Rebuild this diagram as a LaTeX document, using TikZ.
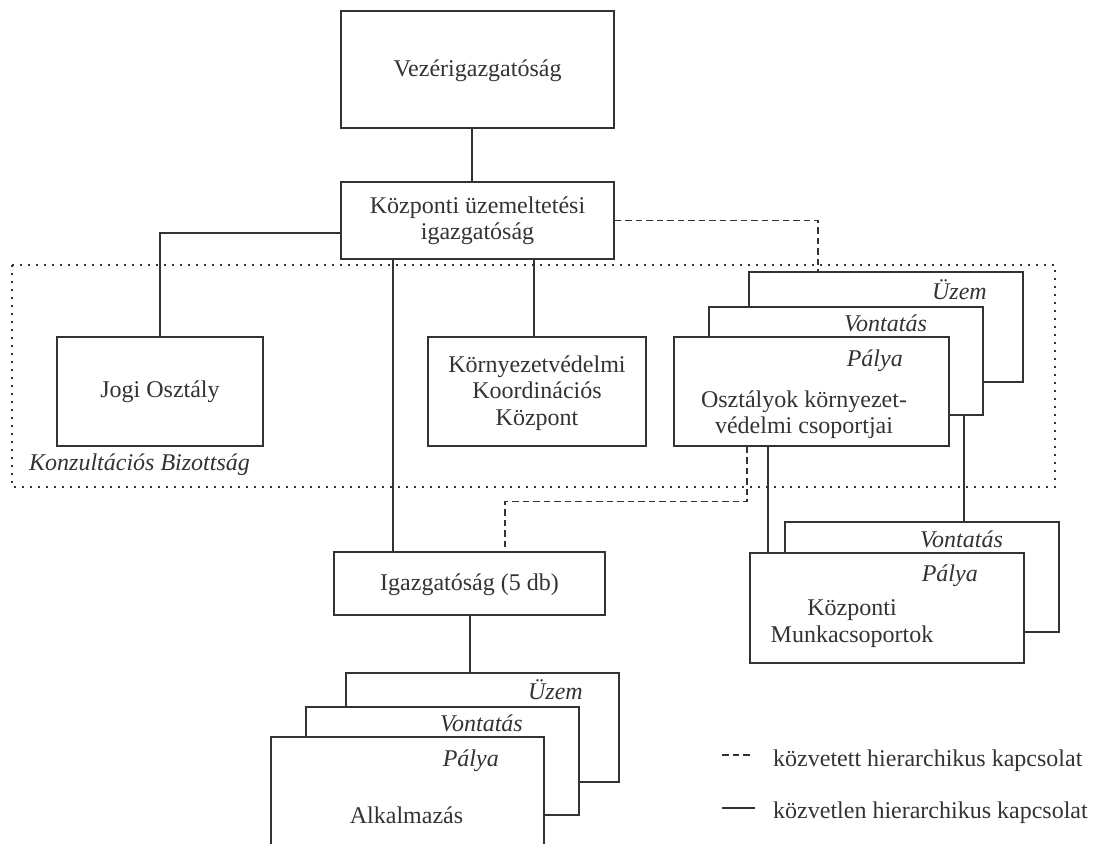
\documentclass[tikz,border=0pt]{standalone}
\usepackage{fontspec}
\setmainfont{Liberation Serif}
\definecolor{ink}{gray}{0.2}
\tikzset{
  box/.style={draw=ink, line width=1.4pt, fill=white, inner sep=0pt},
  lbl/.style={inner sep=0pt, text=ink, font=\fontsize{24}{26.5}\selectfont},
  tag/.style={inner sep=0pt, text=ink, font=\fontsize{24}{26.5}\selectfont\itshape, anchor=base east},
  link/.style={draw=ink, line width=1.4pt},
  viaLink/.style={link, dash pattern=on 6.5pt off 4pt},
  groupLine/.style={draw=ink, line width=1.2pt, dash pattern=on 2pt off 6pt}
}
\begin{document}
\begin{tikzpicture}[x=1pt,y=-1pt]
\clip (0,0) rectangle (1094,843);
\fill[white] (0,0) rectangle (1094,843);

% consultation group frame
\draw[groupLine] (12,265) rectangle (1055,487);

% main boxes
\node[box, minimum width=273pt, minimum height=117pt] (vez)  at (477.5,69.5) {};
\node[box, minimum width=273pt, minimum height=77pt]  (kozp) at (477.5,220.5) {};
\node[box, minimum width=206pt, minimum height=109pt] (jogi) at (160,391.5) {};
\node[box, minimum width=218pt, minimum height=109pt] (korny) at (537,391.5) {};
\node[box, minimum width=271pt, minimum height=63pt]  (igaz) at (469.5,583.5) {};

% department groups (stacked)
\node[box, minimum width=274pt, minimum height=110pt] (uzemA)  at (886,327) {};
\node[box, minimum width=274pt, minimum height=108pt] (vontA)  at (846,361) {};
\node[box, minimum width=275pt, minimum height=109pt] (palyaA) at (811.5,391.5) {};

% central working groups (stacked)
\node[box, minimum width=274pt, minimum height=110pt] (munkaB) at (922,577) {};
\node[box, minimum width=274pt, minimum height=110pt] (munkaA) at (887,608) {};

% application (stacked)
\node[box, minimum width=273pt, minimum height=109pt] (uzemC)  at (482.5,727.5) {};
\node[box, minimum width=273pt, minimum height=108pt] (vontC)  at (442.5,761) {};
\node[box, minimum width=273pt, minimum height=109pt] (palyaC) at (407.5,791.5) {};

% connectors
\draw[link] ([xshift=-5.5pt]vez.south) -- ([xshift=-5.5pt]kozp.north);
\draw[link] ([yshift=-12.5pt]kozp.west) -| (jogi.north);
\draw[link] ([xshift=-84.5pt]kozp.south) -- ([xshift=-84.5pt]kozp.south |- igaz.north);
\draw[link] ([xshift=-3pt]korny.north) -- ([xshift=-3pt]korny.north |- kozp.south);
\draw[viaLink] (kozp.east) -| ([xshift=-68pt]uzemA.north);
\draw[viaLink] ([xshift=-64.5pt]palyaA.south) -- ++(0,55) -| ([xshift=35.5pt]igaz.north);
\draw[link] ([xshift=-43.5pt]palyaA.south) -- ([xshift=-43.5pt]palyaA.south |- munkaA.north);
\draw[link] ([xshift=118pt]vontA.south) -- ([xshift=118pt]vontA.south |- munkaB.north);
\draw[link] ([xshift=0.5pt]igaz.south) -- ([xshift=0.5pt]igaz.south |- uzemC.north);

% texts (multi-line nodes sit on the baseline of their last line)
\node[lbl, anchor=base] (tVez) at (477.5,77) {Vezérigazgatóság};
\node[lbl, anchor=base, align=center] (tKozp) at (477.5,239.5) {Központi üzemeltetési\\igazgatóság};
\node[lbl, anchor=base] (tJogi) at (160,397) {Jogi Osztály};
\node[lbl, anchor=base, align=center] (tKorny) at (537,425) {Környezetvédelmi\\Koordinációs\\Központ};
\node[lbl, font=\fontsize{24}{26.5}\selectfont\itshape, anchor=base west] (tKonz) at (29,470) {Konzultációs Bizottság};
\node[lbl, anchor=base] (tIgaz) at (469.5,590) {Igazgatóság (5 db)};

\node[tag] (tUzemA)  at (987,299) {Üzem};
\node[tag] (tVontA)  at (927,331) {Vontatás};
\node[tag] (tPalyaA) at (903,366) {Pálya};
\node[lbl, anchor=base, align=center] (tOszt) at (804,433.5) {Osztályok környezet-\\védelmi csoportjai};

\node[tag] (tVontB)  at (1003,547) {Vontatás};
\node[tag] (tPalyaB) at (978,581) {Pálya};
\node[lbl, anchor=base, align=center] (tMunka) at (852,642) {Központi\\Munkacsoportok};

\node[tag] (tUzemC)  at (583,699) {Üzem};
\node[tag] (tVontC)  at (523,731) {Vontatás};
\node[tag] (tPalyaC) at (499,766) {Pálya};
\node[lbl, anchor=base] (tAlk) at (406.5,823) {Alkalmazás};

% legend
\coordinate (legDashA) at (722,755);
\coordinate (legDashB) at (752,755);
\coordinate (legLineA) at (722,808);
\coordinate (legLineB) at (755,808);
\draw[viaLink] (legDashA) -- (legDashB);
\draw[link] (legLineA) -- (legLineB);
\node[lbl, anchor=base west] (tLeg1) at (773,766) {közvetett hierarchikus kapcsolat};
\node[lbl, anchor=base west] (tLeg2) at (773,818) {közvetlen hierarchikus kapcsolat};
\end{tikzpicture}
\end{document}
